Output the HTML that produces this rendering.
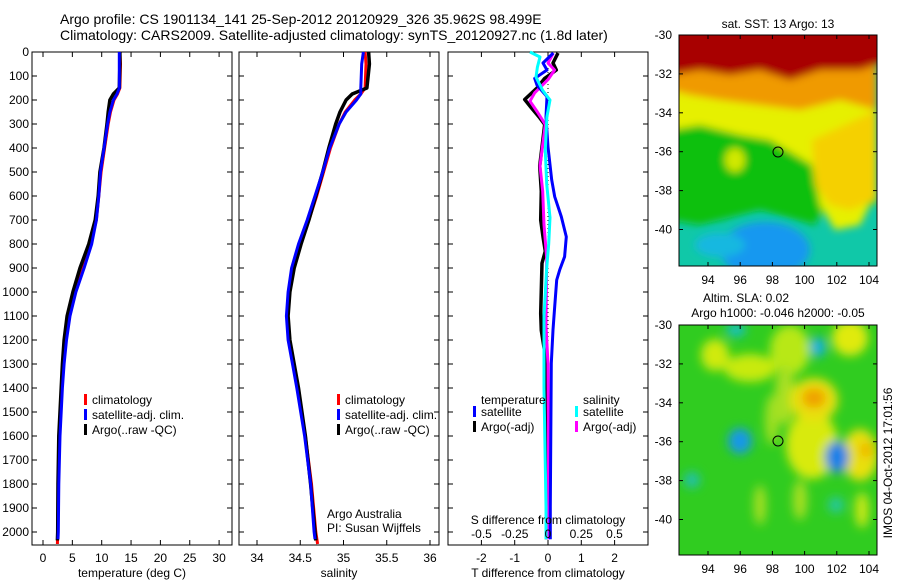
<!DOCTYPE html>
<html><head><meta charset="utf-8">
<style>
html,body{margin:0;padding:0;background:#fff;}
svg{display:block;font-family:"Liberation Sans",sans-serif;}
</style></head>
<body>
<svg id="fig" width="900" height="580" viewBox="0 0 900 580" xmlns="http://www.w3.org/2000/svg">
<defs>
<filter id="blur3" x="-10%" y="-10%" width="120%" height="120%"><feGaussianBlur stdDeviation="4"/></filter>
<filter id="blur5" x="-20%" y="-20%" width="140%" height="140%"><feGaussianBlur stdDeviation="5"/></filter>
<clipPath id="clipTop"><rect x="679" y="35" width="198" height="231"/></clipPath>
<clipPath id="clipBot"><rect x="679" y="325" width="198" height="230"/></clipPath>
</defs>
<text x="60" y="24" font-size="14">Argo profile: CS 1901134_141 25-Sep-2012 20120929_326 35.962S 98.499E</text>
<text x="60" y="40" font-size="14">Climatology: CARS2009. Satellite-adjusted climatology: synTS_20120927.nc (1.8d later)</text>

<g id="p1"></g>
<g id="p2"></g>
<g id="p3"></g>

<!-- SST map -->
<g>
<text x="778" y="28" font-size="12" text-anchor="middle">sat. SST: 13 Argo: 13</text>
<g clip-path="url(#clipTop)">
<rect x="679" y="35" width="198" height="231" fill="#10c8a8"/>
<g filter="url(#blur3)">
<polygon points="670,120 877,120 877,205 830,195 815,225 760,210 700,225 670,220" fill="#10c010"/>
<polygon points="670,90 877,90 877,190 860,225 835,230 820,205 812,165 770,140 740,135 700,125 670,130" fill="#e6f000"/>
<polygon points="812,140 877,110 877,200 850,210 830,205 815,185" fill="#f5d000"/>
<polygon points="670,55 877,55 877,110 840,100 800,110 760,105 720,100 690,95 670,90" fill="#f09a00"/>
<polygon points="670,20 890,20 890,60 860,70 820,70 790,80 760,70 730,75 700,70 670,75" fill="#a80000"/>
<ellipse cx="765" cy="250" rx="45" ry="28" fill="#1898f0"/>
<ellipse cx="720" cy="245" rx="25" ry="12" fill="#18b8e0"/>
<ellipse cx="735" cy="160" rx="10" ry="12" fill="#d0e800"/>
</g>
</g>
<rect x="679" y="35" width="198" height="231" fill="none" stroke="#000"/>
<circle cx="778" cy="152" r="5" fill="none" stroke="#000"/>
<g id="mapTopTicks"></g>
</g>

<!-- SLA map -->
<g>
<text x="746" y="302" font-size="12" text-anchor="middle">Altim. SLA: 0.02</text>
<text x="778" y="317" font-size="12" text-anchor="middle">Argo h1000: -0.046 h2000: -0.05</text>
<g clip-path="url(#clipBot)">
<rect x="679" y="325" width="198" height="230" fill="#30cc20"/>
<g filter="url(#blur5)">
<ellipse cx="790" cy="350" rx="20" ry="25" fill="#b8e818"/>
<ellipse cx="750" cy="368" rx="26" ry="14" fill="#c8ea10"/>
<ellipse cx="715" cy="355" rx="14" ry="16" fill="#d0ea10"/>
<ellipse cx="850" cy="338" rx="18" ry="18" fill="#e0ea10"/>
<ellipse cx="812" cy="445" rx="26" ry="34" fill="#d8ea10"/>
<ellipse cx="860" cy="455" rx="18" ry="26" fill="#e8e010"/>
<ellipse cx="785" cy="395" rx="10" ry="30" fill="#a8e020"/>
<ellipse cx="772" cy="420" rx="7" ry="25" fill="#a0e020"/>
<ellipse cx="814" cy="400" rx="24" ry="22" fill="#e8e010"/>
<ellipse cx="814" cy="398" rx="12" ry="10" fill="#f0a000"/>
<ellipse cx="866" cy="450" rx="6" ry="8" fill="#f0b000"/>
<ellipse cx="740" cy="441" rx="12" ry="13" fill="#1898e8"/>
<ellipse cx="837" cy="457" rx="12" ry="16" fill="#1880e8"/>
<ellipse cx="818" cy="347" rx="8" ry="10" fill="#18b0e0"/>
<ellipse cx="736" cy="330" rx="10" ry="7" fill="#18c0c0"/>
<ellipse cx="692" cy="480" rx="8" ry="8" fill="#20c0b0"/>
<ellipse cx="836" cy="505" rx="8" ry="8" fill="#28c8a0"/>
<ellipse cx="862" cy="510" rx="7" ry="18" fill="#c8e818"/>
<ellipse cx="760" cy="505" rx="6" ry="20" fill="#a8e020"/>
<ellipse cx="800" cy="500" rx="7" ry="20" fill="#a8e020"/>
</g>
</g>
<rect x="679" y="325" width="198" height="230" fill="none" stroke="#000"/>
<circle cx="778" cy="441" r="5" fill="none" stroke="#000"/>
<g id="mapBotTicks"></g>
</g>
<text transform="translate(892,463) rotate(-90)" font-size="12" text-anchor="middle">IMOS 04-Oct-2012 17:01:56</text>

<script>
// ---------- data ----------
const depthTicks = [0,100,200,300,400,500,600,700,800,900,1000,1100,1200,1300,1400,1500,1600,1700,1800,1900,2000];
const tempTicks = [0,5,10,15,20,25,30];
const salTicks = [34,34.5,35,35.5,36];
const tDiffTicks = [-2,-1,0,1,2];
const sDiffTicks = [-0.5,-0.25,0,0.25,0.5];
const sDiffLabels = ["-0.5","-0.25","0","0.25","0.5"];

const argoDepth = [0,50,150,175,200,250,300,400,500,600,700,800,900,1000,1100,1200,1300,1400,1600,1800,2000,2035];
const argoTemp  = [13.1,13.1,13.0,12.0,11.4,11.1,10.9,10.4,9.7,9.4,8.9,7.8,6.3,5.1,4.1,3.6,3.3,3.1,2.7,2.55,2.5,2.45];
const argoSal   = [35.29,35.30,35.27,35.10,35.03,34.96,34.91,34.83,34.76,34.68,34.60,34.51,34.43,34.38,34.36,34.38,34.43,34.48,34.56,34.62,34.67,34.68];

const climDepth = [0,50,150,175,200,250,300,400,500,600,700,800,900,1000,1100,1200,1300,1400,1600,1800,2000,2050];
const climTemp  = [13.1,13.2,13.1,12.7,12.1,11.5,11.1,10.5,9.9,9.5,9.1,8.1,6.7,5.3,4.3,3.8,3.4,3.2,2.8,2.6,2.5,2.45];
const climSal   = [35.25,35.26,35.25,35.2,35.13,35.02,34.95,34.85,34.77,34.69,34.6,34.5,34.42,34.37,34.35,34.37,34.42,34.47,34.56,34.63,34.68,34.70];

const satDepth = [0,50,150,175,200,250,300,400,500,600,700,800,900,1000,1100,1200,1300,1400,1600,1800,2000,2030];
const satTemp  = [13.0,13.0,13.0,12.6,12.0,11.4,11.0,10.4,9.8,9.5,9.1,8.3,7.0,5.6,4.6,4.0,3.6,3.3,2.9,2.7,2.6,2.55];
const satSal   = [35.23,35.21,35.2,35.2,35.15,35.03,34.95,34.84,34.76,34.67,34.58,34.48,34.40,34.36,34.34,34.36,34.41,34.46,34.55,34.62,34.66,34.67];

const dTdepth = [4,46,75,110,138,186,270,395,533,603,686,770,853,908,950,1061,1158,1297,1896,2030];
const dTsat   = [0.16,-0.15,-0.03,-0.4,-0.33,-0.03,-0.06,0.0,0.11,0.2,0.4,0.55,0.5,0.35,0.26,0.2,0.15,0.1,0.07,0.07];
const dTargoDepth = [4,46,75,110,150,198,233,274,302,475,580,700,770,830,880,1090,1160,1250,1390,2030];
const dTargo  = [0.3,0.15,0.25,-0.1,-0.33,-0.7,-0.5,-0.25,-0.1,-0.25,-0.2,-0.22,-0.15,-0.08,-0.18,-0.22,-0.2,-0.1,-0.05,-0.05];
const dSdepth = [0,21,63,105,160,200,270,410,550,690,800,900,1100,1400,1896,2030];
const dSsat   = [-0.135,-0.06,-0.08,-0.09,-0.04,0.015,-0.008,-0.02,-0.01,0.015,0.005,-0.01,-0.03,-0.03,-0.015,-0.015];
const dSargoDepth = [4,46,75,115,170,205,250,302,475,580,720,860,1140,1300,1896,2030];
const dSargo  = [0.04,0.0,0.05,0.0,-0.1,-0.135,-0.08,-0.02,-0.06,-0.04,-0.03,-0.01,-0.015,0.0,0.005,0.005];

const mapLonTicks = [94,96,98,100,102,104];
const mapLatTicks = [-30,-32,-34,-36,-38,-40];

// ---------- helpers ----------
const NS = "http://www.w3.org/2000/svg";
function mk(tag, attrs, parent){
  const e = document.createElementNS(NS, tag);
  for (const k in attrs) e.setAttribute(k, attrs[k]);
  parent.appendChild(e);
  return e;
}
const Y0 = 52, Y1 = 545;
const yD = d => Y0 + d * 0.24;

function panel(g, x0, x1, xScale, ticks, labels, xtitle, nameBase){
  const r = mk('rect', {x:x0, y:Y0, width:x1-x0, height:Y1-Y0, fill:'none', stroke:'#000'}, g);
  
  
  depthTicks.forEach(d => {
    mk('line', {x1:x0, x2:x0+5, y1:yD(d), y2:yD(d), stroke:'#000'}, g);
    mk('line', {x1:x1-5, x2:x1, y1:yD(d), y2:yD(d), stroke:'#000'}, g);
  });
  ticks.forEach((t,i) => {
    const x = xScale(t);
    mk('line', {x1:x, x2:x, y1:Y0, y2:Y0+5, stroke:'#000'}, g);
    mk('line', {x1:x, x2:x, y1:Y1-5, y2:Y1, stroke:'#000'}, g);
    if (labels){
      const tx = mk('text', {x:x, y:562, 'font-size':12, 'text-anchor':'middle'}, g);
      tx.textContent = labels[i];
      
      
    }
  });
  if (xtitle){
    const t = mk('text', {x:(x0+x1)/2, y:577, 'font-size':12, 'text-anchor':'middle'}, g);
    t.textContent = xtitle;
    
    
  }
}
function line(g, depths, vals, xScale, color, w, name){
  const pts = depths.map((d,i) => xScale(vals[i]).toFixed(1) + ',' + yD(d).toFixed(1)).join(' ');
  const p = mk('polyline', {points:pts, fill:'none', stroke:color, 'stroke-width':w, 'stroke-linejoin':'round'}, g);
  
  
}
function legend(g, x, y, items, nameBase){
  items.forEach((it,i) => {
    mk('rect', {x:x, y:y+i*15-10, width:3, height:11, fill:it[1]}, g);
    const t = mk('text', {x:x+8, y:y+i*15, 'font-size':12}, g);
    t.textContent = it[0];
    
    
  });
}

// ---------- panel 1 ----------
const g1 = document.getElementById('p1');
const xT = v => 43 + v * 5.87;
depthTicks.forEach(d => {
  const t = mk('text', {x:29, y:yD(d)+4, 'font-size':12, 'text-anchor':'end'}, g1);
  t.textContent = d;
  
  
});
panel(g1, 32, 232, xT, tempTicks, tempTicks.map(String), 'temperature (deg C)', 'temperature');
line(g1, climDepth, climTemp, xT, '#f00', 3, 'temperature-climatology-line');
line(g1, argoDepth, argoTemp, xT, '#000', 3.5, 'temperature-argo-line');
line(g1, satDepth, satTemp, xT, '#00f', 3, 'temperature-satellite-line');
legend(g1, 84, 404, [['climatology','#f00'],['satellite-adj. clim.','#00f'],['Argo(..raw -QC)','#000']], 'temperature');

// ---------- panel 2 ----------
const g2 = document.getElementById('p2');
const xS = v => 257 + (v - 34) * 86.5;
panel(g2, 239, 439, xS, salTicks, salTicks.map(String), 'salinity', 'salinity');
line(g2, climDepth, climSal, xS, '#f00', 3, 'salinity-climatology-line');
line(g2, argoDepth, argoSal, xS, '#000', 3.5, 'salinity-argo-line');
line(g2, satDepth, satSal, xS, '#00f', 3, 'salinity-satellite-line');
legend(g2, 337, 404, [['climatology','#f00'],['satellite-adj. clim.','#00f'],['Argo(..raw -QC)','#000']], 'salinity');
const a1 = mk('text', {x:327, y:518, 'font-size':12}, g2); a1.textContent = 'Argo Australia';


const a2 = mk('text', {x:327, y:532, 'font-size':12}, g2); a2.textContent = 'PI: Susan Wijffels';



// ---------- panel 3 ----------
const g3 = document.getElementById('p3');
const xdT = v => 548 + v * 33.3;
const xdS = v => 548 + v * 133;
panel(g3, 448, 648, xdT, tDiffTicks, tDiffTicks.map(String), 'T difference from climatology', 'tdiff');
const zl = mk('line', {x1:548, x2:548, y1:Y0, y2:Y1, stroke:'#000', 'stroke-dasharray':'1,3'}, g3);


line(g3, dTargoDepth, dTargo, xdT, '#000', 3.5, 'tdiff-argo-line');
line(g3, dSargoDepth, dSargo, xdS, '#f0f', 3, 'sdiff-argo-line');
line(g3, dTdepth, dTsat, xdT, '#00f', 3, 'tdiff-satellite-line');
line(g3, dSdepth, dSsat, xdS, '#0ff', 3, 'sdiff-satellite-line');
sDiffTicks.forEach((t,i) => {
  const tx = mk('text', {x:xdS(t), y:538, 'font-size':12, 'text-anchor':'middle'}, g3);
  tx.textContent = sDiffLabels[i];
  
  
});
const st = mk('text', {x:548, y:524, 'font-size':12, 'text-anchor':'middle'}, g3);
st.textContent = 'S difference from climatology';


const lt1 = mk('text', {x:481, y:404, 'font-size':12}, g3); lt1.textContent = 'temperature';


const lt2 = mk('text', {x:583, y:404, 'font-size':12}, g3); lt2.textContent = 'salinity';


legend(g3, 473, 416, [['satellite','#00f'],['Argo(-adj)','#000']], 'tdiff');
legend(g3, 575, 416, [['satellite','#0ff'],['Argo(-adj)','#f0f']], 'sdiff');

// ---------- map ticks ----------
function mapTicks(id, yTop, yBot, lat0){
  const g = document.getElementById(id);
  const lonX = l => 708 + (l - 94) * 16.1;
  const latY = l => lat0 + (-30 - l) * 19.45;
  mapLonTicks.forEach(l => {
    mk('line', {x1:lonX(l), x2:lonX(l), y1:yTop, y2:yTop+4, stroke:'#000'}, g);
    mk('line', {x1:lonX(l), x2:lonX(l), y1:yBot-4, y2:yBot, stroke:'#000'}, g);
    const t = mk('text', {x:lonX(l), y:yBot+18, 'font-size':12, 'text-anchor':'middle'}, g);
    t.textContent = l;
    
    
  });
  mapLatTicks.forEach(l => {
    mk('line', {x1:679, x2:683, y1:latY(l), y2:latY(l), stroke:'#000'}, g);
    mk('line', {x1:873, x2:877, y1:latY(l), y2:latY(l), stroke:'#000'}, g);
    const t = mk('text', {x:672, y:latY(l)+4, 'font-size':12, 'text-anchor':'end'}, g);
    t.textContent = l;
    
    
  });
}
mapTicks('mapTopTicks', 35, 266, 35);
mapTicks('mapBotTicks', 325, 555, 325);
</script>
</svg>
</body></html>
